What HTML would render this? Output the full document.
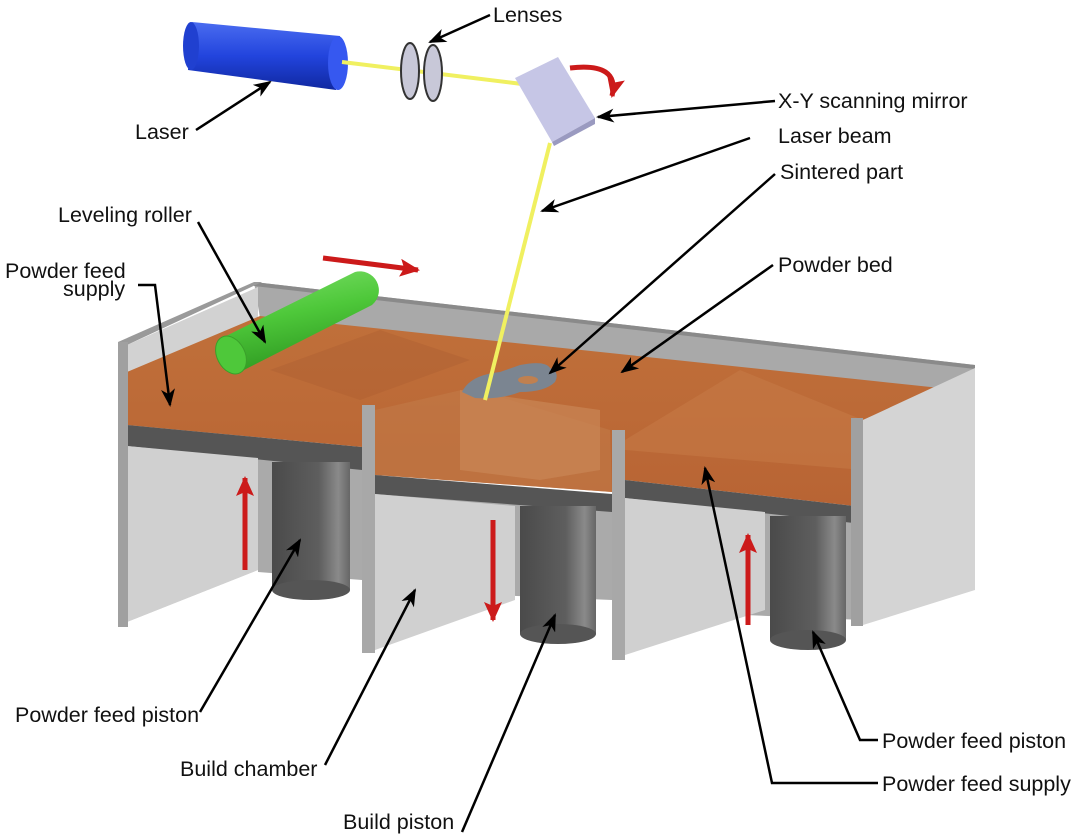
<!DOCTYPE html>
<html><head><meta charset="utf-8"><style>
html,body{margin:0;padding:0;background:#fff;}
svg{display:block;}
text{font-family:"Liberation Sans",Arial,sans-serif;font-size:21.5px;fill:#111;}
</style></head><body>
<svg width="1080" height="839" viewBox="0 0 1080 839" xmlns="http://www.w3.org/2000/svg">
<defs>
<linearGradient id="blue" x1="0" y1="0" x2="0" y2="1"><stop offset="0" stop-color="#4a6cf0"/><stop offset="0.5" stop-color="#2244dd"/><stop offset="1" stop-color="#1028a0"/></linearGradient>
<linearGradient id="green" x1="0" y1="0" x2="0.3" y2="1"><stop offset="0" stop-color="#7ee06a"/><stop offset="0.5" stop-color="#4ec83a"/><stop offset="1" stop-color="#2f9a22"/></linearGradient>
<linearGradient id="pist" x1="0" y1="0" x2="1" y2="0"><stop offset="0" stop-color="#4a4a4a"/><stop offset="0.6" stop-color="#5e5e5e"/><stop offset="0.85" stop-color="#8a8a8a"/><stop offset="1" stop-color="#666"/></linearGradient>
<linearGradient id="orange" x1="0" y1="0" x2="0" y2="1"><stop offset="0" stop-color="#c0703a"/><stop offset="1" stop-color="#b86434"/></linearGradient>
<marker id="ahb" markerWidth="18" markerHeight="14" refX="16" refY="7" orient="auto" markerUnits="userSpaceOnUse"><path d="M0,0 L18,7 L0,14 L5,7 z" fill="#000"/></marker>
<marker id="rh" markerWidth="20" markerHeight="18" refX="18" refY="9" orient="auto" markerUnits="userSpaceOnUse"><path d="M0,0 L20,9 L0,18 L4,9 z" fill="#cc1a1a"/></marker>
</defs>

<polygon points="254,282 975,365 975,395 260,318" fill="#a9a9a9"/>
<polygon points="254,282 975,365 975,369 254,286" fill="#8a8a8a"/>
<polygon points="127,345 258,287 258,570 127,622" fill="#d2d2d2"/>
<polygon points="258,440 362,450 362,580 258,572" fill="#aaaaaa"/>
<polygon points="375,480 612,500 612,600 375,590" fill="#aaaaaa"/>
<polygon points="625,490 863,510 863,620 625,610" fill="#aaaaaa"/>

<polygon points="127,372 260,316 940,388 863,420 863,507 625,480 612,492 375,475 362,447 127,425" fill="url(#orange)"/>
<polygon points="375,410 470,388 610,430 612,492 375,475" fill="#c27a48" opacity="0.6"/>
<polygon points="460,390 600,410 600,470 540,480 460,470" fill="#c98656" opacity="0.7"/>
<polygon points="625,440 740,370 863,420 863,470 625,450" fill="#c77c48" opacity="0.5"/>
<polygon points="270,370 380,330 470,360 360,400" fill="#a85c30" opacity="0.35"/>
<path d="M462,392 Q470,375 500,372 L520,365 Q545,360 550,368 Q560,372 555,382 Q545,392 520,392 Q500,400 475,398 Z" fill="#7b8591"/>
<ellipse cx="528" cy="380" rx="10" ry="4" fill="#c08050"/>

<polygon points="127,425 362,447 362,470 127,446" fill="#555"/>
<polygon points="375,475 612,494 612,512 375,494" fill="#555"/>
<polygon points="625,480 863,507 863,524 625,498" fill="#555"/>

<polygon points="127,446 258,458 258,570 127,622" fill="#d0d0d0"/>
<rect x="272" y="462" width="78" height="128" fill="url(#pist)"/>
<ellipse cx="311" cy="590" rx="39" ry="10" fill="#555"/>
<polygon points="375,494 515,506 515,600 375,650" fill="#d0d0d0"/>
<rect x="520" y="506" width="76" height="128" fill="url(#pist)"/>
<ellipse cx="558" cy="634" rx="38" ry="10" fill="#555"/>
<polygon points="625,498 765,512 765,610 625,655" fill="#d0d0d0"/>
<rect x="770" y="516" width="76" height="124" fill="url(#pist)"/>
<ellipse cx="808" cy="640" rx="38" ry="10" fill="#555"/>

<polygon points="118,342 254,282 262,282 127,345" fill="#9a9a9a"/>
<rect x="118" y="342" width="10" height="285" fill="#a0a0a0"/>
<rect x="362" y="405" width="13" height="248" fill="#a8a8a8"/>
<rect x="612" y="430" width="13" height="230" fill="#a8a8a8"/>
<polygon points="863,420 975,368 975,590 863,625" fill="#d4d4d4"/>
<rect x="851" y="418" width="12" height="208" fill="#a0a0a0"/>

<path d="M240,372 L372,305 A19,19 0 0 0 355,272 L222,338 Z" fill="url(#green)"/>
<ellipse cx="231" cy="355" rx="14" ry="20" transform="rotate(-27 231 355)" fill="#4ec83a" stroke="#3aa02a"/>

<line x1="323" y1="258" x2="418" y2="270" stroke="#cc1a1a" stroke-width="5" marker-end="url(#rh)"/>
<line x1="245" y1="570" x2="245" y2="478" stroke="#cc1a1a" stroke-width="5" marker-end="url(#rh)"/>
<line x1="493" y1="520" x2="493" y2="620" stroke="#cc1a1a" stroke-width="5" marker-end="url(#rh)"/>
<line x1="748" y1="625" x2="748" y2="535" stroke="#cc1a1a" stroke-width="5" marker-end="url(#rh)"/>

<path d="M192,22 L340,36 L336,90 L188,70 Z" fill="url(#blue)"/>
<ellipse cx="191" cy="46" rx="8" ry="24" fill="#2040d0"/>
<ellipse cx="338" cy="63" rx="10" ry="27" fill="#3658f0"/>
<line x1="342" y1="62" x2="522" y2="84" stroke="#f0f060" stroke-width="4"/>
<ellipse cx="410" cy="71" rx="9" ry="28" fill="#c8c8d8" stroke="#333" stroke-width="2"/>
<ellipse cx="433" cy="73" rx="9" ry="28" fill="#c8c8d8" stroke="#333" stroke-width="2"/>
<polygon points="515,78 558,57 595,118 552,142" fill="#c6c6e6"/>
<polygon points="552,142 595,118 595,124 554,146" fill="#9a9ac0"/>
<path d="M570,68 Q620,62 612,96" fill="none" stroke="#cc1a1a" stroke-width="5" marker-end="url(#rh)"/>
<line x1="550" y1="143" x2="485" y2="400" stroke="#f0f060" stroke-width="4"/>

<g stroke="#000" stroke-width="2.5" fill="none">
<line x1="490" y1="15" x2="430" y2="42" marker-end="url(#ahb)"/>
<line x1="196" y1="130" x2="270" y2="82" marker-end="url(#ahb)"/>
<line x1="775" y1="101" x2="598" y2="117" marker-end="url(#ahb)"/>
<line x1="750" y1="138" x2="542" y2="211" marker-end="url(#ahb)"/>
<line x1="775" y1="174" x2="550" y2="373" marker-end="url(#ahb)"/>
<line x1="773" y1="265" x2="622" y2="372" marker-end="url(#ahb)"/>
<line x1="198" y1="222" x2="265" y2="342" marker-end="url(#ahb)"/>
<polyline points="138,285 155,285 170,405" marker-end="url(#ahb)"/>
<line x1="200" y1="712" x2="300" y2="540" marker-end="url(#ahb)"/>
<line x1="325" y1="765" x2="415" y2="590" marker-end="url(#ahb)"/>
<line x1="462" y1="832" x2="555" y2="615" marker-end="url(#ahb)"/>
<polyline points="878,740 860,740 813,632" marker-end="url(#ahb)"/>
<polyline points="878,783 772,783 705,468" marker-end="url(#ahb)"/>
</g>

<text x="493" y="22">Lenses</text>
<text x="135" y="139">Laser</text>
<text x="778" y="108">X-Y scanning mirror</text>
<text x="778" y="143">Laser beam</text>
<text x="780" y="179">Sintered part</text>
<text x="778" y="272">Powder bed</text>
<text x="58" y="222">Leveling roller</text>
<text x="5" y="278">Powder feed</text>
<text x="63" y="296">supply</text>
<text x="15" y="722">Powder feed piston</text>
<text x="180" y="776">Build chamber</text>
<text x="343" y="829">Build piston</text>
<text x="882" y="748">Powder feed piston</text>
<text x="882" y="791">Powder feed supply</text>
</svg>
</body></html>
